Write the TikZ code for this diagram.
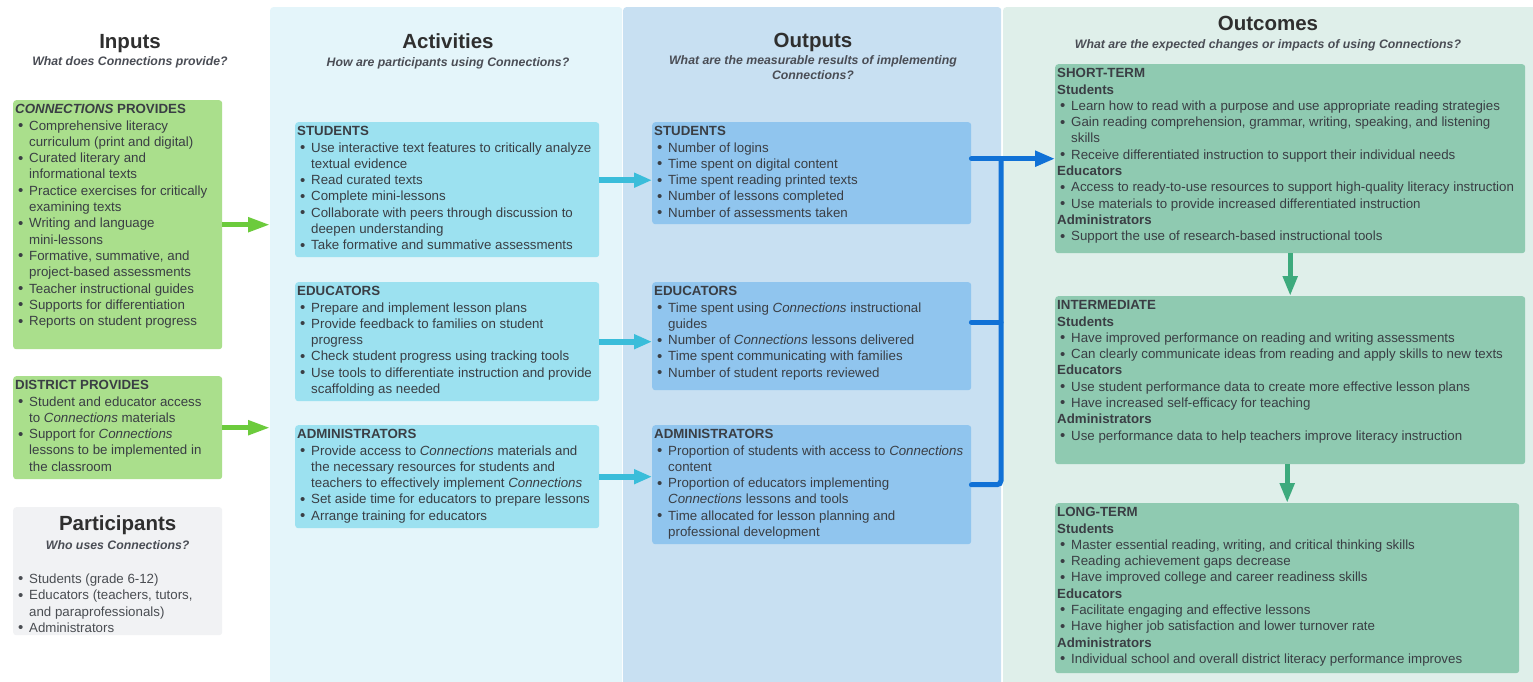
\documentclass[tikz,border=0pt]{standalone}
\usepackage{fontspec}
\setmainfont{Liberation Sans}
\usetikzlibrary{arrows.meta}

\definecolor{ink}{HTML}{3A3E44}
\definecolor{titleink}{HTML}{2F2F2F}
\definecolor{subink}{HTML}{4A4D55}
\definecolor{partink}{HTML}{4A4D52}
\definecolor{actbg}{HTML}{E4F5FA}
\definecolor{outbg}{HTML}{C8E0F2}
\definecolor{ocbg}{HTML}{DFEFEA}
\definecolor{ingreen}{HTML}{AADF8C}
\definecolor{partgray}{HTML}{F1F2F4}
\definecolor{actcyan}{HTML}{9CE1F0}
\definecolor{outblue}{HTML}{90C5EE}
\definecolor{ocgreen}{HTML}{8FCAB1}
\definecolor{arrgreen}{HTML}{6CCB3C}
\definecolor{arrcyan}{HTML}{3ABDDA}
\definecolor{arrblue}{HTML}{1071D6}
\definecolor{arrteal}{HTML}{3DAA7D}

\newcommand{\bodyfont}{\fontsize{13.3}{16.3}\selectfont}
\newcommand{\itm}{\par\hangindent=14pt\hangafter=1\hspace*{3pt}\makebox[11pt][l]{\raisebox{-0.4pt}{\fontsize{15}{10}\selectfont\textbullet}}}
\newcommand{\boxtext}[3]{\begin{minipage}[t][\dimexpr#2pt-6pt\relax][t]{\dimexpr#1pt-4pt\relax}\raggedright\rule{0pt}{10.5pt}#3\end{minipage}}
\newcommand{\conn}{\textit{Connections}}

\begin{document}
\begin{tikzpicture}[x=1pt, y=-1pt,
  panel/.style={anchor=north west, inner sep=0pt, rounded corners=3pt},
  card/.style={anchor=north west, inner xsep=2pt, inner ysep=3pt, rounded corners=3pt, text=ink, font=\bodyfont},
  coltitle/.style={anchor=base, text=titleink, font=\fontsize{20.5}{24}\selectfont\bfseries},
  colsub/.style={anchor=base, text=subink, font=\fontsize{12.3}{15}\selectfont\bfseries\itshape, align=center},
  garrow/.style={draw=arrgreen, line width=5pt, -{Triangle[length=22pt,width=14pt]}},
  carrow/.style={draw=arrcyan, line width=6pt, -{Triangle[length=18pt,width=14pt]}},
  bline/.style={draw=arrblue, line width=5pt, line cap=round},
  barrow/.style={bline, -{Triangle[length=20pt,width=15pt]}},
  tarrow/.style={draw=arrteal, line width=5pt, -{Triangle[length=20pt,width=14pt]}}]
  \useasboundingbox (0,0) rectangle (1533,681);
  \fill[white] (0,0) rectangle (1533,681);

  % column panels
  \node[panel, fill=actbg, minimum width=352pt, minimum height=690pt] (actpanel) at (270,7) {};
  \node[panel, fill=outbg, minimum width=378pt, minimum height=690pt] (outpanel) at (623,7) {};
  \node[panel, fill=ocbg, minimum width=540pt, minimum height=690pt] (ocpanel) at (1003,7) {};

  \node[coltitle] (intitle) at (130,48) {Inputs};
  \node[colsub] (insub) at (130,65) {What does Connections provide?};
  \node[coltitle] (acttitle) at (448,48) {Activities};
  \node[colsub] (actsub) at (448,66) {How are participants using Connections?};
  \node[coltitle] (outtitle) at (813,47) {Outputs};
  \node[colsub, anchor=north, inner sep=0pt] (outsub) at (813,55) {What are the measurable results of implementing\\Connections?};
  \node[coltitle] (octitle) at (1268,30) {Outcomes};
  \node[colsub] (ocsub) at (1268,48) {What are the expected changes or impacts of using Connections?};

  % inputs
  \node[card, fill=ingreen] (inprov) at (13,100) {\boxtext{209}{249}{\textbf{\textit{CONNECTIONS} PROVIDES}
    \itm Comprehensive literacy\newline curriculum (print and digital)
    \itm Curated literary and\newline informational texts
    \itm Practice exercises for critically\newline examining texts
    \itm Writing and language\newline mini-lessons
    \itm Formative, summative, and\newline project-based assessments
    \itm Teacher instructional guides
    \itm Supports for differentiation
    \itm Reports on student progress}};
  \node[card, fill=ingreen] (indist) at (13,376) {\boxtext{209}{103}{\textbf{DISTRICT PROVIDES}
    \itm Student and educator access\newline to \conn{} materials
    \itm Support for \conn\newline lessons to be implemented in\newline the classroom}};
  \node[card, fill=partgray] (part) at (13,507) {\boxtext{209}{128}{\centering
    {\fontsize{20.5}{19}\selectfont\bfseries\color{titleink}\rule{0pt}{20pt}Participants\par}
    {\fontsize{12.3}{19}\selectfont\bfseries\itshape\color{subink}Who uses Connections?\par}
    \vspace{18pt}\raggedright\color{partink}
    \itm Students (grade 6-12)
    \itm Educators (teachers, tutors,\newline and paraprofessionals)
    \itm Administrators}};

  % activities
  \node[card, fill=actcyan] (actstu) at (295,122) {\boxtext{304}{135}{\textbf{STUDENTS}
    \itm Use interactive text features to critically analyze\newline textual evidence
    \itm Read curated texts
    \itm Complete mini-lessons
    \itm Collaborate with peers through discussion to\newline deepen understanding
    \itm Take formative and summative assessments}};
  \node[card, fill=actcyan] (actedu) at (295,282) {\boxtext{304}{119}{\textbf{EDUCATORS}
    \itm Prepare and implement lesson plans
    \itm Provide feedback to families on student\newline progress
    \itm Check student progress using tracking tools
    \itm Use tools to differentiate instruction and provide\newline scaffolding as needed}};
  \node[card, fill=actcyan] (actadm) at (295,425) {\boxtext{304}{103}{\textbf{ADMINISTRATORS}
    \itm Provide access to \conn{} materials and\newline the necessary resources for students and\newline teachers to effectively implement \conn
    \itm Set aside time for educators to prepare lessons
    \itm Arrange training for educators}};

  % outputs
  \node[card, fill=outblue] (outstu) at (652,122) {\boxtext{319}{102}{\textbf{STUDENTS}
    \itm Number of logins
    \itm Time spent on digital content
    \itm Time spent reading printed texts
    \itm Number of lessons completed
    \itm Number of assessments taken}};
  \node[card, fill=outblue] (outedu) at (652,282) {\boxtext{319}{108}{\textbf{EDUCATORS}
    \itm Time spent using \conn{} instructional\newline guides
    \itm Number of \conn{} lessons delivered
    \itm Time spent communicating with families
    \itm Number of student reports reviewed}};
  \node[card, fill=outblue] (outadm) at (652,425) {\boxtext{319}{119}{\textbf{ADMINISTRATORS}
    \itm Proportion of students with access to \conn\newline content
    \itm Proportion of educators implementing\newline \conn{} lessons and tools
    \itm Time allocated for lesson planning and\newline professional development}};

  % outcomes
  \node[card, fill=ocgreen] (short) at (1055,64) {\boxtext{470}{189}{\textbf{SHORT-TERM}\par\textbf{Students}
    \itm Learn how to read with a purpose and use appropriate reading strategies
    \itm Gain reading comprehension, grammar, writing, speaking, and listening\newline skills
    \itm Receive differentiated instruction to support their individual needs
    \par\textbf{Educators}
    \itm Access to ready-to-use resources to support high-quality literacy instruction
    \itm Use materials to provide increased differentiated instruction
    \par\textbf{Administrators}
    \itm Support the use of research-based instructional tools}};
  \node[card, fill=ocgreen] (inter) at (1055,296) {\boxtext{470}{168}{\textbf{INTERMEDIATE}\par\textbf{Students}
    \itm Have improved performance on reading and writing assessments
    \itm Can clearly communicate ideas from reading and apply skills to new texts
    \par\textbf{Educators}
    \itm Use student performance data to create more effective lesson plans
    \itm Have increased self-efficacy for teaching
    \par\textbf{Administrators}
    \itm Use performance data to help teachers improve literacy instruction}};
  \node[card, fill=ocgreen] (long) at (1055,503) {\boxtext{464}{170}{\textbf{LONG-TERM}\par\textbf{Students}
    \itm Master essential reading, writing, and critical thinking skills
    \itm Reading achievement gaps decrease
    \itm Have improved college and career readiness skills
    \par\textbf{Educators}
    \itm Facilitate engaging and effective lessons
    \itm Have higher job satisfaction and lower turnover rate
    \par\textbf{Administrators}
    \itm Individual school and overall district literacy performance improves}};

  % connectors
  \draw[garrow] (inprov.east) -- (inprov.east -| actpanel.west);
  \draw[garrow] (indist.east) -- (indist.east -| actpanel.west);

  \coordinate (s1) at ([yshift=9.5pt]actstu.east);
  \draw[carrow] (s1) -- (s1 -| outstu.west);
  \draw[carrow] (actedu.east) -- (actedu.east -| outedu.west);
  \draw[carrow] (actadm.east) -- (actadm.east -| outadm.west);

  \coordinate (bus) at (1001,0);
  \coordinate (e1) at ([yshift=14pt]outedu.east);
  \draw[bline] (e1) -- (e1 -| bus);
  \draw[bline, rounded corners=4pt] (outadm.east) -| (bus |- short.west);
  \draw[barrow] (outstu.east |- short.west) -- (short.west);

  \draw[tarrow] (short.south) -- (inter.north);
  \draw[tarrow] (long.north |- inter.south) -- (long.north);
\end{tikzpicture}
\end{document}
